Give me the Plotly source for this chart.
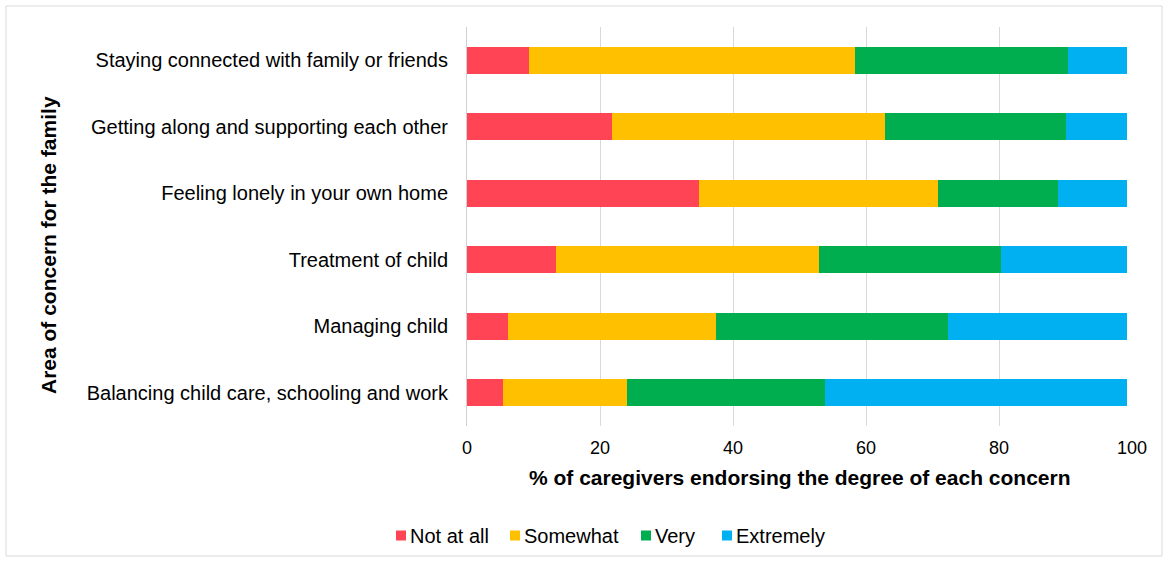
import plotly.graph_objects as go

# categories top to bottom
concerns = [
    "Staying connected with family or friends",
    "Getting along and supporting each other",
    "Feeling lonely in your own home",
    "Treatment of child",
    "Managing child",
    "Balancing child care, schooling and work",
]

# % of caregivers per degree
not_at_all = [9.3, 21.8, 34.9, 13.4, 6.1, 5.4]
somewhat = [49.0, 41.1, 36.0, 39.6, 31.3, 18.6]
very = [32.1, 27.1, 18.0, 27.3, 35.0, 29.9]
extremely = [8.9, 9.3, 10.4, 19.0, 26.9, 45.4]

series = [
    ("Not at all", not_at_all, "#FF4456"),
    ("Somewhat", somewhat, "#FFC000"),
    ("Very", very, "#00AD4F"),
    ("Extremely", extremely, "#00B0F0"),
]

FONT = "Liberation Sans, Arial, sans-serif"

# plot area in pixels (for placing the frame, titles and legend)
W, H = 1169, 566
PL, PR, PT, PB = 467, 1132, 27, 426


def px_x(x):
    return (x - PL) / (PR - PL)


def px_y(y):
    return (PB - y) / (PB - PT)


fig = go.Figure()
for name, vals, color in series:
    fig.add_trace(go.Bar(
        y=concerns, x=vals, name=name, orientation="h",
        marker=dict(color=color, line=dict(width=0)),
    ))

fig.update_layout(
    barmode="stack",
    bargap=0.6,
    width=W, height=H,
    margin=dict(l=PL, r=W - PR, t=PT, b=H - PB),
    plot_bgcolor="white",
    paper_bgcolor="white",
    font=dict(family=FONT, size=20, color="black"),
    showlegend=False,
)

fig.update_xaxes(
    range=[0, 100], tickvals=[0, 20, 40, 60, 80, 100],
    showgrid=True, gridcolor="#D9D9D9", gridwidth=1,
    zeroline=False, showline=False, ticks="",
    ticklabelstandoff=9, tickfont=dict(size=18),
)
fig.update_yaxes(
    autorange="reversed", showgrid=False, ticks="",
    showline=True, linecolor="#D0D0D0", linewidth=1,
    ticklabelstandoff=14, tickfont=dict(size=20),
)

# axis titles
fig.add_annotation(
    text="<b>% of caregivers endorsing the degree of each concern</b>",
    xref="paper", yref="paper", x=0.5, y=px_y(477),
    xanchor="center", yanchor="middle", showarrow=False,
    font=dict(size=21),
)
fig.add_annotation(
    text="<b>Area of concern for the family</b>",
    xref="paper", yref="paper", x=px_x(48), y=px_y(245),
    xanchor="center", yanchor="middle", showarrow=False,
    textangle=-90, font=dict(size=21),
)

# legend below the axis title: small square + label, Excel style
legend_left = [396, 510, 641, 722]
for (name, _, color), lx in zip(series, legend_left):
    fig.add_shape(
        type="rect", xref="paper", yref="paper",
        x0=px_x(lx), x1=px_x(lx + 10), y0=px_y(540.5), y1=px_y(530.5),
        fillcolor=color, line=dict(width=0),
    )
    fig.add_annotation(
        text=name, xref="paper", yref="paper",
        x=px_x(lx + 12), y=px_y(535.5),
        xanchor="left", yanchor="middle", showarrow=False,
        font=dict(size=20),
    )

# outer frame
fig.add_shape(
    type="rect", xref="paper", yref="paper",
    x0=px_x(6), x1=px_x(1162), y0=px_y(556), y1=px_y(6),
    line=dict(color="#D9D9D9", width=1), layer="below",
)

# page body has an 8px default margin; drop it so the figure sits at 0,0
fig.write_html(
    "out.html",
    config={"displayModeBar": False},
    post_script="document.body.style.margin='0';",
)
